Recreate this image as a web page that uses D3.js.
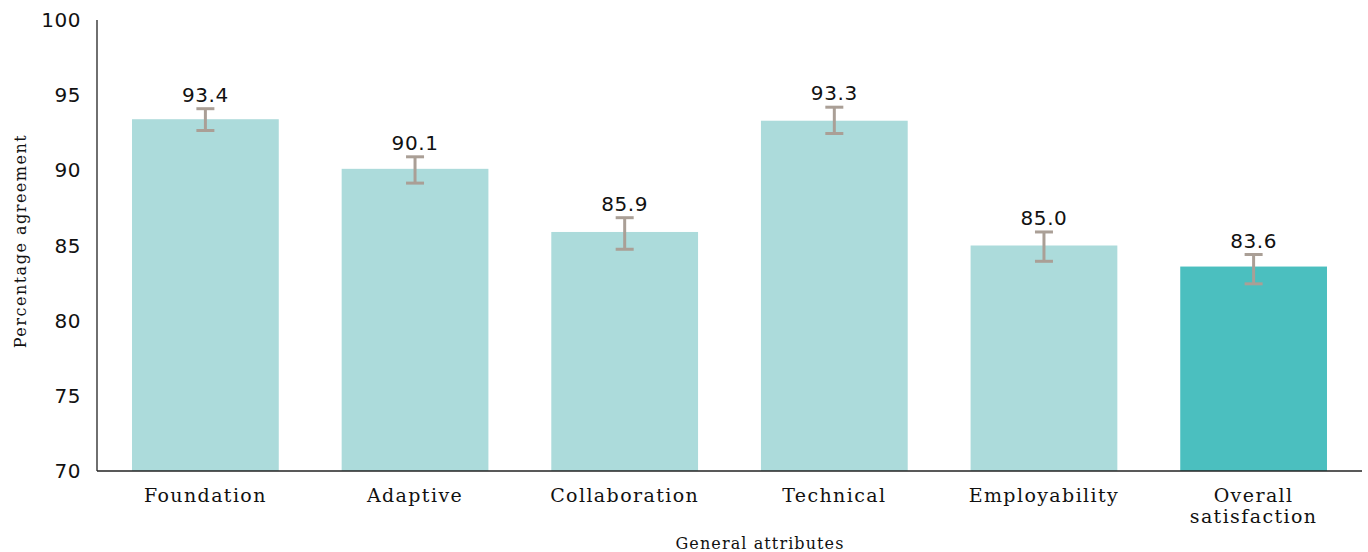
<!DOCTYPE html>
<html><head><meta charset="utf-8">
<script src="https://cdn.jsdelivr.net/npm/d3@7"></script>
<style>body{margin:0;background:#fff}</style>
</head><body>
<svg id="c" width="1368" height="552"></svg>
<script>
const categories = ["Foundation","Adaptive","Collaboration","Technical","Employability","Overall satisfaction"];
const values = [93.4, 90.1, 85.9, 93.3, 85.0, 83.6];
const errLow = [92.65, 89.15, 84.75, 92.45, 83.95, 82.45];
const errHigh = [94.1, 90.9, 86.85, 94.2, 85.9, 84.4];
const yTicks = [70,75,80,85,90,95,100];
const colors = ["#acdbdb","#acdbdb","#acdbdb","#acdbdb","#acdbdb","#4bbfbf"];

const svg = d3.select("#c");
const mLeft = 97, mRight = 1362, mTop = 20, mBottom = 471;
const x = d3.scaleBand().domain(categories).range([mLeft, mRight]).paddingInner(0.3).paddingOuter(0.167);
const y = d3.scaleLinear().domain([70,100]).range([mBottom, mTop]);
const numFont = "'DejaVu Sans', sans-serif";
const labFont = "'DejaVu Serif', serif";

svg.selectAll("rect.bar").data(categories).enter().append("rect")
  .attr("x", d => x(d)).attr("width", x.bandwidth())
  .attr("y", (d,i) => y(values[i])).attr("height", (d,i) => y(70) - y(values[i]))
  .attr("fill", (d,i) => colors[i]);

svg.append("line").attr("x1", mLeft).attr("x2", mLeft).attr("y1", mTop).attr("y2", mBottom).attr("stroke","#222").attr("stroke-width",1.3);
svg.append("line").attr("x1", mLeft).attr("x2", mRight).attr("y1", mBottom).attr("y2", mBottom).attr("stroke","#222").attr("stroke-width",1.3);

svg.selectAll("text.yt").data(yTicks).enter().append("text")
  .attr("x", 81).attr("y", d => y(d)).attr("dy","0.35em").attr("text-anchor","end")
  .attr("font-family", numFont).attr("font-size", 20).attr("letter-spacing", 0.5).attr("fill","#111").text(d => d);

const eg = svg.append("g").attr("stroke","#aa9f96").attr("stroke-width",3);
categories.forEach((c,i) => {
  const cx = x(c) + x.bandwidth()/2;
  eg.append("line").attr("x1",cx).attr("x2",cx).attr("y1",y(errLow[i])).attr("y2",y(errHigh[i]));
  eg.append("line").attr("x1",cx-9).attr("x2",cx+9).attr("y1",y(errLow[i])).attr("y2",y(errLow[i]));
  eg.append("line").attr("x1",cx-9).attr("x2",cx+9).attr("y1",y(errHigh[i])).attr("y2",y(errHigh[i]));
});

svg.selectAll("text.v").data(categories).enter().append("text")
  .attr("x", d => x(d) + x.bandwidth()/2).attr("y", (d,i) => y(errHigh[i]) - 7)
  .attr("text-anchor","middle").attr("font-family", numFont).attr("font-size", 20).attr("letter-spacing", 0.6).attr("fill","#111")
  .text((d,i) => values[i].toFixed(1));

categories.forEach((c) => {
  const cx = x(c) + x.bandwidth()/2;
  const words = c === "Overall satisfaction" ? ["Overall","satisfaction"] : [c];
  const t = svg.append("text").attr("x", cx).attr("y", 502).attr("text-anchor","middle")
    .attr("font-family", labFont).attr("font-size", 19).attr("letter-spacing", 1.4).attr("fill","#111");
  words.forEach((w,j) => t.append("tspan").attr("x", cx).attr("dy", j === 0 ? 0 : 21).text(w));
});

svg.append("text").attr("x", 760).attr("y", 549).attr("text-anchor","middle")
  .attr("font-family", labFont).attr("font-size", 16).attr("letter-spacing", 1.1).attr("fill","#111").text("General attributes");
svg.append("text").attr("transform","translate(26,241) rotate(-90)").attr("text-anchor","middle")
  .attr("font-family", labFont).attr("font-size", 16).attr("letter-spacing", 1.5).attr("fill","#111").text("Percentage agreement");
</script>
</body></html>
